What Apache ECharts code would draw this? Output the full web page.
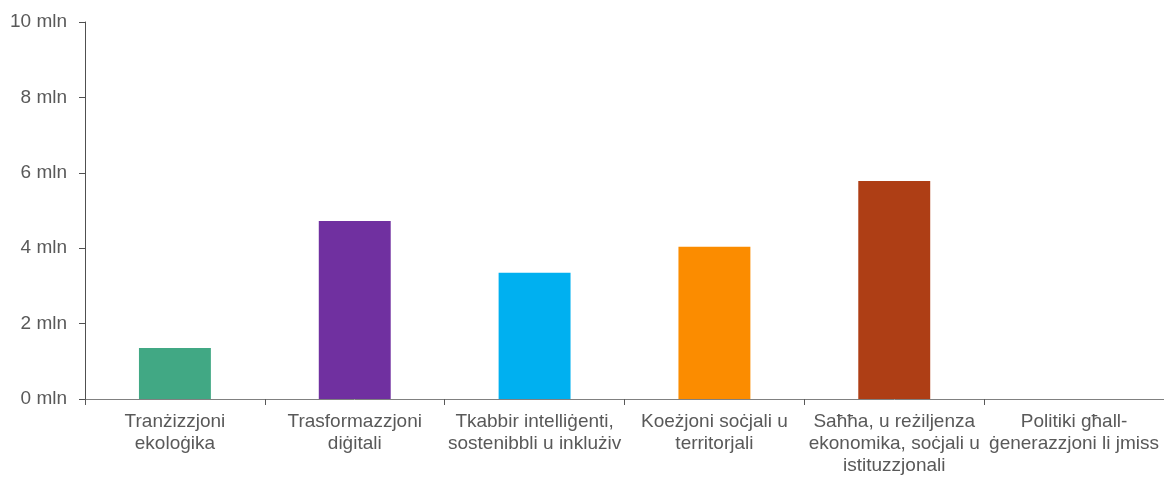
<!DOCTYPE html>
<html>
<head>
<meta charset="utf-8">
<script src="https://cdn.jsdelivr.net/npm/echarts@6/dist/echarts.min.js"></script>
<style>html,body{margin:0;padding:0;background:#fff}#c{width:1164px;height:477px}</style>
</head>
<body>
<div id="c"></div>
<script>
const categories = [
  "Tranżizzjoni\nekoloġika",
  "Trasformazzjoni\ndiġitali",
  "Tkabbir intelliġenti,\nsostenibbli u inklużiv",
  "Koeżjoni soċjali u\nterritorjali",
  "Saħħa, u reżiljenza\nekonomika, soċjali u\nistituzzjonali",
  "Politiki għall-\nġenerazzjoni li jmiss"
];
const values = [1.35, 4.72, 3.35, 4.04, 5.78, 0];
const colors = ["#41A884", "#7030A0", "#00B0F0", "#FB8C00", "#AE3E15", "#888888"];
const yTicks = [0, 2, 4, 6, 8, 10];

const chart = echarts.init(document.getElementById('c'));
chart.setOption({
  animation: false,
  grid: {left: 85, top: 22, width: 1080, height: 379},
  xAxis: {
    type: 'category',
    data: categories,
    axisLine: {lineStyle: {color: '#808080', width: 1}},
    axisTick: {show: true, length: 6, lineStyle: {color: '#595959'}},
    axisLabel: {color: '#595959', fontSize: 19, fontFamily: 'Liberation Sans, Arial, sans-serif', lineHeight: 22, margin: 12, interval: 0}
  },
  yAxis: {
    type: 'value',
    min: yTicks[0], max: yTicks[yTicks.length - 1], interval: 2,
    splitLine: {show: false},
    axisLine: {show: true, lineStyle: {color: '#505050', width: 1}},
    axisTick: {show: true, length: 6, lineStyle: {color: '#505050'}},
    axisLabel: {color: '#595959', fontSize: 19, fontFamily: 'Liberation Sans, Arial, sans-serif', margin: 18,
      formatter: v => v + ' mln'}
  },
  series: [{
    type: 'bar',
    barWidth: '40%',
    data: values.map((v, i) => ({value: v, itemStyle: {color: colors[i]}}))
  }]
});
</script>
</body>
</html>
